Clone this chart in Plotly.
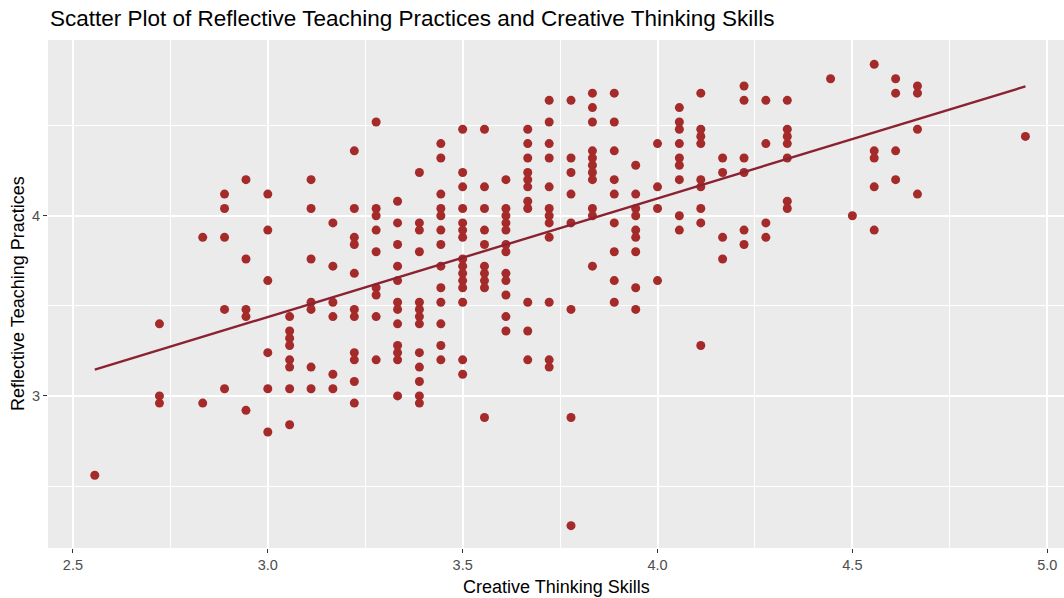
import numpy as np
import plotly.graph_objects as go

# Creative thinking score (x) and reflective teaching score (y) for each respondent
creative_thinking = (
    [2.556]
    + [2.722] * 3
    + [2.833] * 2
    + [2.889] * 5
    + [2.944] * 5
    + [3.000] * 6
    + [3.056] * 8
    + [3.111] * 7
    + [3.167] * 6
    + [3.222] * 11
    + [3.278] * 9
    + [3.333] * 12
    + [3.389] * 13
    + [3.444] * 13
    + [3.500] * 15
    + [3.556] * 10
    + [3.611] * 12
    + [3.667] * 11
    + [3.722] * 12
    + [3.778] * 8
    + [3.833] * 11
    + [3.889] * 9
    + [3.944] * 9
    + [4.000] * 4
    + [4.056] * 9
    + [4.111] * 9
    + [4.167] * 4
    + [4.222] * 6
    + [4.278] * 4
    + [4.333] * 7
    + [4.444]
    + [4.500]
    + [4.556] * 5
    + [4.611] * 4
    + [4.667] * 4
    + [4.944]
)

reflective_teaching = [
    2.56,
    3.40, 3.00, 2.96,
    3.88, 2.96,
    4.12, 4.04, 3.88, 3.48, 3.04,
    4.20, 3.76, 3.48, 3.44, 2.92,
    4.12, 3.92, 3.64, 3.24, 3.04, 2.80,
    3.44, 3.36, 3.32, 3.28, 3.20, 3.16, 3.04, 2.84,
    4.20, 4.04, 3.76, 3.52, 3.48, 3.16, 3.04,
    3.96, 3.72, 3.52, 3.44, 3.12, 3.04,
    4.36, 4.04, 3.88, 3.84, 3.68, 3.48, 3.44, 3.24, 3.20, 3.08, 2.96,
    4.52, 4.04, 4.00, 3.92, 3.80, 3.60, 3.56, 3.44, 3.20,
    4.08, 3.96, 3.84, 3.72, 3.64, 3.52, 3.48, 3.40, 3.28, 3.24, 3.20, 3.00,
    4.24, 3.96, 3.92, 3.80, 3.52, 3.48, 3.44, 3.40, 3.24, 3.16, 3.08, 3.00, 2.96,
    4.40, 4.32, 4.12, 4.04, 4.00, 3.92, 3.84, 3.72, 3.60, 3.52, 3.40, 3.28, 3.20,
    4.48, 4.24, 4.16, 4.04, 3.96, 3.92, 3.88, 3.76, 3.72, 3.68, 3.64, 3.60, 3.52, 3.20, 3.12,
    4.48, 4.16, 4.04, 3.92, 3.84, 3.72, 3.68, 3.64, 3.60, 2.88,
    4.20, 4.04, 4.00, 3.96, 3.92, 3.84, 3.80, 3.68, 3.64, 3.56, 3.44, 3.36,
    4.48, 4.40, 4.32, 4.24, 4.20, 4.16, 4.08, 4.04, 3.52, 3.36, 3.20,
    4.64, 4.52, 4.40, 4.32, 4.16, 4.04, 4.00, 3.96, 3.88, 3.52, 3.20, 3.16,
    4.64, 4.32, 4.24, 4.12, 3.96, 3.48, 2.88, 2.28,
    4.68, 4.60, 4.52, 4.36, 4.32, 4.28, 4.24, 4.20, 4.04, 4.00, 3.72,
    4.68, 4.52, 4.36, 4.20, 4.12, 3.96, 3.80, 3.64, 3.52,
    4.28, 4.12, 4.04, 4.00, 3.92, 3.88, 3.80, 3.60, 3.48,
    4.40, 4.16, 4.04, 3.64,
    4.60, 4.52, 4.48, 4.40, 4.32, 4.28, 4.20, 4.00, 3.92,
    4.68, 4.48, 4.44, 4.40, 4.20, 4.16, 4.04, 3.96, 3.28,
    4.32, 4.24, 3.88, 3.76,
    4.72, 4.64, 4.32, 4.24, 3.92, 3.84,
    4.64, 4.40, 3.96, 3.88,
    4.64, 4.48, 4.44, 4.40, 4.32, 4.08, 4.04,
    4.76,
    4.00,
    4.84, 4.36, 4.32, 4.16, 3.92,
    4.76, 4.68, 4.36, 4.20,
    4.72, 4.68, 4.48, 4.12,
    4.44,
]

x_ticks = [2.5, 3.0, 3.5, 4.0, 4.5, 5.0]
x_tick_labels = ["2.5", "3.0", "3.5", "4.0", "4.5", "5.0"]
x_minor = [2.75, 3.25, 3.75, 4.25, 4.75]
y_ticks = [3, 4]
y_tick_labels = ["3", "4"]
y_minor = [2.5, 3.5, 4.5]

x = np.array(creative_thinking)
y = np.array(reflective_teaching)

# ordinary least-squares line across the observed x span
slope, intercept = np.polyfit(x, y, 1)
fit_x = np.linspace(x.min(), x.max(), 80)
fit_y = intercept + slope * fit_x

POINT = "#A52A2A"
LINE = "#8B2232"
FONT = "Liberation Sans, Arial, sans-serif"

fig = go.Figure()
fig.add_trace(go.Scatter(
    x=x, y=y, mode="markers",
    marker=dict(color=POINT, size=9, line=dict(width=0)),
    hoverinfo="x+y", showlegend=False,
))
fig.add_trace(go.Scatter(
    x=fit_x, y=fit_y, mode="lines",
    line=dict(color=LINE, width=2.4),
    hoverinfo="skip", showlegend=False,
))

axis_common = dict(
    showgrid=True, gridcolor="white", gridwidth=1.5,
    zeroline=False, showline=False,
    ticks="outside", ticklen=4, tickwidth=1, tickcolor="#333333",
    tickfont=dict(family=FONT, size=14.5, color="#4D4D4D"),
)

fig.update_layout(
    width=1064, height=598,
    margin=dict(l=48, r=0, t=40, b=50, autoexpand=False),
    paper_bgcolor="white", plot_bgcolor="#EBEBEB",
    font=dict(family=FONT),
    xaxis=dict(
        range=[2.436, 5.043], tickmode="array",
        tickvals=x_ticks, ticktext=x_tick_labels,
        minor=dict(tickmode="array", tickvals=x_minor, showgrid=True,
                   gridcolor="white", gridwidth=0.8, ticks=""),
        **axis_common,
    ),
    yaxis=dict(
        range=[2.156, 4.975], tickmode="array",
        tickvals=y_ticks, ticktext=y_tick_labels,
        minor=dict(tickmode="array", tickvals=y_minor, showgrid=True,
                   gridcolor="white", gridwidth=0.8, ticks=""),
        **axis_common,
    ),
    annotations=[
        dict(text="Scatter Plot of Reflective Teaching Practices and Creative Thinking Skills",
             xref="paper", yref="paper", x=0, y=1 + 22 / 508,
             xanchor="left", yanchor="middle", showarrow=False,
             font=dict(family=FONT, size=22.5, color="black")),
        dict(text="Creative Thinking Skills",
             xref="paper", yref="paper", x=0.5, y=-39 / 508,
             xanchor="center", yanchor="middle", showarrow=False,
             font=dict(family=FONT, size=18, color="black")),
        dict(text="Reflective Teaching Practices",
             xref="paper", yref="paper", x=-30 / 1016, y=0.5,
             xanchor="center", yanchor="middle", showarrow=False, textangle=-90,
             font=dict(family=FONT, size=18, color="black")),
    ],
)

fig.write_html("out.html")
